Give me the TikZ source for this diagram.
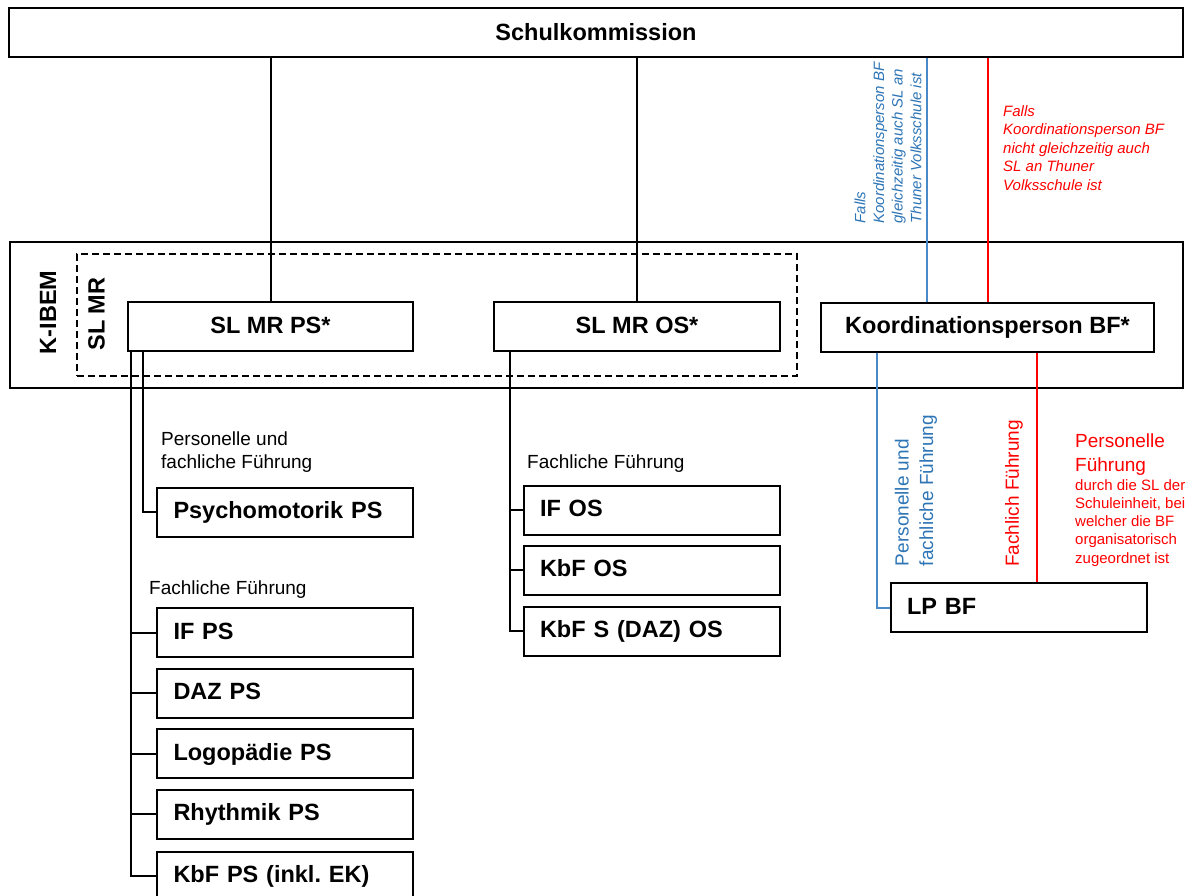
\documentclass[tikz,border=0pt]{standalone}
\usepackage{fontspec}
\setmainfont{Liberation Sans}
\frenchspacing
\definecolor{bftext}{RGB}{46,117,182}
\definecolor{bfline}{RGB}{74,137,200}
\definecolor{bfred}{RGB}{255,0,0}
\tikzset{
  big/.style={font=\bfseries\fontsize{23.5}{28}\selectfont},
  box/.style={draw, line width=2pt, inner sep=0pt, big, text height=17pt, text depth=4pt},
  cbox/.style={box, minimum height=49pt},
  lbox/.style={box, minimum height=49pt, text width=223pt, inner xsep=16.5pt, align=left},
  small/.style={font=\fontsize{19}{23}\selectfont, inner sep=0pt},
  note/.style={font=\itshape\fontsize{15}{18.6}\selectfont, inner sep=0pt, align=left},
  conn/.style={line width=2pt},
}
\begin{document}
\begin{tikzpicture}[x=1pt,y=-1pt]
\clip (0,0) rectangle (1192,896);
\fill[white] (0,0) rectangle (1192,896);

% frames
\node[cbox, minimum width=1174pt, text depth=1pt] (schul) at (596,32.5) {Schulkommission};
\node[draw, line width=2pt, minimum width=1173pt, minimum height=146pt, inner sep=0pt] (kibem) at (596.5,315) {};
\node[draw, line width=1.5pt, dash pattern=on 7pt off 4pt, minimum width=720pt, minimum height=122pt, inner sep=0pt] (slmr) at (437,315) {};
\node[rotate=90, big, inner sep=0pt] (kibemlbl) at (48,312.5) {K-IBEM};
\node[rotate=90, big, inner sep=0pt] (slmrlbl) at (96.5,314) {SL MR};

% leaders
\node[cbox, minimum width=285pt] (slps) at (270.5,326.5) {SL MR PS*};
\node[cbox, minimum width=286pt] (slos) at (637,326.5) {SL MR OS*};
\node[cbox, minimum width=333pt] (koord) at (987.5,327) {Koordinationsperson BF*};

% PS boxes
\node[lbox] (psy) at (285,512) {Psychomotorik PS};
\node[lbox] (ifps) at (285,632.5) {IF PS};
\node[lbox] (dazps) at (285,693) {DAZ PS};
\node[lbox] (logo) at (285,753.5) {Logopädie PS};
\node[lbox] (rhy) at (285,814) {Rhythmik PS};
\node[lbox] (kbfps) at (285,876) {KbF PS (inkl. EK)};

% OS boxes
\node[lbox] (ifos) at (651.5,510) {IF OS};
\node[lbox] (kbfos) at (651.5,570) {KbF OS};
\node[lbox] (kbfsos) at (651.5,631) {KbF S (DAZ) OS};

% BF box
\node[lbox] (lpbf) at (1018.5,607.5) {LP BF};

% labels
\node[small, anchor=north west, align=left] (plabel) at (161,432) {Personelle und\\fachliche Führung};
\node[small, anchor=base west] (fpsl) at (149,594) {Fachliche Führung};
\node[small, anchor=base west] (fosl) at (527,468) {Fachliche Führung};

\node[note, rotate=90, text=bftext] (bnote) at (888,143) {Falls\\Koordinationsperson BF\\gleichzeitig auch SL an\\Thuner Volksschule ist};
\node[note, anchor=north west, text=bfred] (rnote) at (1003,105) {Falls\\Koordinationsperson BF\\nicht gleichzeitig auch\\SL an Thuner\\Volksschule ist};

\node[rotate=90, align=left, inner sep=0pt, text=bftext, font=\fontsize{19}{24.5}\selectfont] (blbl) at (916,490.5) {Personelle und\\fachliche Führung};
\node[rotate=90, inner sep=0pt, text=bfred, font=\fontsize{19}{23}\selectfont] (rlbl) at (1014,493.5) {Fachlich Führung};
\node[anchor=north west, align=left, inner sep=0pt, text=bfred, font=\fontsize{19}{24}\selectfont] (rpers) at (1075,434) {Personelle\\Führung};
\node[anchor=north west, align=left, inner sep=0pt, text=bfred, font=\fontsize{15}{18.25}\selectfont] (rsmall) at (1075,479) {durch die SL der\\Schuleinheit, bei\\welcher die BF\\organisatorisch\\zugeordnet ist};

% connectors from Schulkommission
\draw[conn] (slps.north) -- (slps.north |- schul.south);
\draw[conn] (slos.north) -- (slos.north |- schul.south);
\draw[conn, bfline] ([xshift=-60.5pt]koord.north) -- ([xshift=-60.5pt]koord.north |- schul.south);
\draw[conn, bfred] (koord.north) -- (koord.north |- schul.south);

% PS tree
\coordinate (tpa) at ([xshift=4pt]slps.south west);
\coordinate (tpb) at ([xshift=16pt]slps.south west);
\draw[conn] (tpb) |- (psy.west);
\draw[conn] (tpa) |- (kbfps.west);
\foreach \n in {ifps,dazps,logo,rhy} \draw[conn] (\n.west) -- (\n.west -| tpa);

% OS tree
\coordinate (tos) at ([xshift=17pt]slos.south west);
\draw[conn] (tos) |- (kbfsos.west);
\foreach \n in {ifos,kbfos} \draw[conn] (\n.west) -- (\n.west -| tos);

% BF
\draw[conn, bfline] ([xshift=57pt]koord.south west) |- (lpbf.west);
\draw[conn, bfred] ([xshift=18.5pt]lpbf.north) -- ([xshift=18.5pt]lpbf.north |- koord.south);
\end{tikzpicture}
\end{document}
